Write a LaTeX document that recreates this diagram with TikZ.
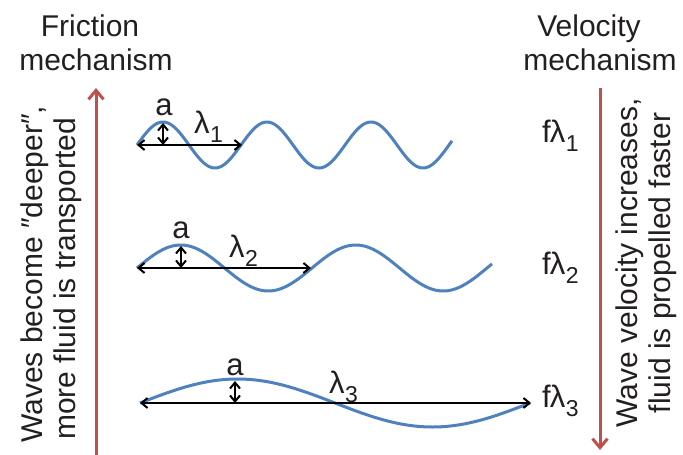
\documentclass[tikz,border=0pt]{standalone}
\usepackage{fontspec}
\setmainfont{Liberation Sans}
\usetikzlibrary{arrows.meta}
\definecolor{redarrow}{RGB}{192,80,77}
\definecolor{wavecol}{RGB}{79,129,189}
\definecolor{txt}{RGB}{35,31,32}
\newcommand\lamsub[1]{λ\kern0.5pt\raisebox{-0.3em}{\fontsize{23}{23}\selectfont #1}}
\begin{document}
\begin{tikzpicture}[x=1pt,y=-1pt,
  big/.style={font=\fontsize{30}{34}\selectfont, inner sep=0pt, text=txt},
  lab/.style={font=\fontsize{31}{33}\selectfont, inner sep=0pt, text=txt},
  redarr/.style={draw=redarrow, line width=3pt, -{Straight Barb[length=9pt,width=15pt,line width=3pt]}},
  wave/.style={draw=wavecol, line width=3pt},
  dimarr/.style={draw=black, line width=2pt, {Straight Barb[length=6pt,width=10pt]}-{Straight Barb[length=6pt,width=10pt]}}]
\useasboundingbox (0,0) rectangle (683,455);

% titles
\node[big, anchor=base] (fric1) at (90,36) {Friction};
\node[big, anchor=base] (fric2) at (96,70) {mechanism};
\node[big, anchor=base] (vel1) at (589,36) {Velocity};
\node[big, anchor=base] (vel2) at (600,70) {mechanism};

% red arrows
\coordinate (lb) at (96,455);
\coordinate (lt) at (96,88);
\draw[redarr] (lb) -- (lt);
\coordinate (rt) at (600,88);
\coordinate (rb) at (600,450);
\draw[redarr] (rt) -- (rb);

% side texts
\node[big, rotate=90, anchor=base west] (ltx1) at (42,443) {Waves become ″deeper″,};
\node[big, rotate=90, anchor=base west] (ltx2) at (75,440) {more fluid is transported};
\node[big, rotate=90, anchor=base] (rtx1) at (637,263) {Wave velocity increases,};
\node[big, rotate=90, anchor=base] (rtx2) at (670,263) {fluid is propelled faster};

% wave 1
\draw[wave] plot[domain=0:315, samples=200, smooth] ({137+\x},{145-23*sin(\x/104*360)});
\coordinate (w1s) at (137,145);
\coordinate (w1e) at (242,145);
\draw[dimarr] (w1s) -- (w1e);
\coordinate (a1b) at (163,145);
\coordinate (a1t) at (163,123);
\draw[dimarr] (a1b) -- (a1t);
\node[lab, anchor=base] (a1) at (164,115) {a};
\node[lab, anchor=base west] (l1) at (194,133) {\lamsub{1}};

% wave 2
\draw[wave] plot[domain=0:355, samples=200, smooth] ({137+\x},{268-23*sin(\x/175*360)});
\coordinate (w2s) at (137,268);
\coordinate (w2e) at (311,268);
\draw[dimarr] (w2s) -- (w2e);
\coordinate (a2b) at (181,268);
\coordinate (a2t) at (181,246);
\draw[dimarr] (a2b) -- (a2t);
\node[lab, anchor=base] (a2) at (181,238) {a};
\node[lab, anchor=base west] (l2) at (229,257) {\lamsub{2}};

% wave 3
\draw[wave] plot[domain=0:390, samples=200, smooth] ({140+\x},{403-24*sin(\x/390*360)});
\coordinate (w3s) at (140,403);
\coordinate (w3e) at (531,403);
\draw[dimarr] (w3s) -- (w3e);
\coordinate (a3b) at (235,403);
\coordinate (a3t) at (235,381);
\draw[dimarr] (a3b) -- (a3t);
\node[lab, anchor=base] (a3) at (235,375) {a};
\node[lab, anchor=base west] (l3) at (329,393) {\lamsub{3}};

% f lambda labels
\node[lab, anchor=base west] (f1) at (542,142) {f\kern-1pt\lamsub{1}};
\node[lab, anchor=base west] (f2) at (542,274) {f\kern-1pt\lamsub{2}};
\node[lab, anchor=base west] (f3) at (542,407) {f\kern-1pt\lamsub{3}};
\end{tikzpicture}
\end{document}
